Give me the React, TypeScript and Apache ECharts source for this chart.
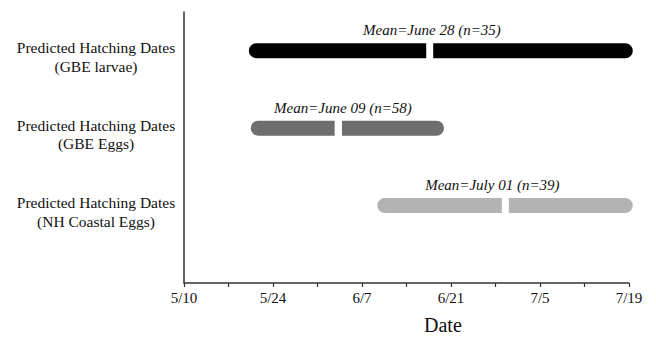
import React, { useEffect, useRef } from "react";
import * as echarts from "echarts";

// Day offsets from 5/10
const rowIndex = [1, 2, 3];
const rowNames = [
  "Predicted Hatching Dates\n(GBE larvae)",
  "Predicted Hatching Dates\n(GBE Eggs)",
  "Predicted Hatching Dates\n(NH Coastal Eggs)",
];
const barStart = [10.2, 10.5, 30.4];
const gapStart = [38.1, 23.7, 50.0];
const gapEnd = [39.2, 24.85, 51.1];
const barEnd = [70.6, 40.9, 70.6];
const meanLabels = ["Mean=June 28 (n=35)", "Mean=June 09 (n=58)", "Mean=July 01 (n=39)"];
const meanLabelDay = [39.0, 25.0, 48.5];
const barColors = ["#000000", "#6e6e6e", "#b3b3b3"];
const xTickDays = [0, 14, 28, 42, 56, 70];
const xTickLabels = ["5/10", "5/24", "6/7", "6/21", "7/5", "7/19"];

const SERIF = "'Liberation Serif', 'Times New Roman', serif";
const LABEL_SHIFT = 0.08; // axis units: labels sit slightly below their bar

export default function App() {
  const ref = useRef<HTMLDivElement>(null);
  useEffect(() => {
    if (!ref.current) return;
    const chart = echarts.init(ref.current, null, { renderer: "svg" });
    const data = rowIndex.map((r, i) => [r, barStart[i], gapStart[i], gapEnd[i], barEnd[i], meanLabelDay[i], i]);
    chart.setOption({
      animation: false,
      grid: { left: 184, right: 27, top: 12, bottom: 58 },
      xAxis: {
        type: "value",
        min: 0,
        max: 70,
        interval: 7,
        splitLine: { show: false },
        axisLine: { show: true, lineStyle: { color: "#333", width: 1.5 } },
        axisTick: { show: true, length: 4, lineStyle: { color: "#333", width: 1.2 } },
        axisLabel: {
          color: "#111",
          fontFamily: SERIF,
          fontSize: 15,
          margin: 7,
          formatter: (v: number) => {
            const k = xTickDays.indexOf(v);
            return k >= 0 ? xTickLabels[k] : "";
          },
        },
      },
      yAxis: {
        type: "value",
        inverse: true,
        min: 0.5,
        max: 4,
        splitLine: { show: false },
        axisLine: { show: true, lineStyle: { color: "#333", width: 1.5 } },
        axisTick: { show: false },
        axisLabel: {
          customValues: rowIndex.map((v) => v + LABEL_SHIFT),
          color: "#111",
          fontFamily: SERIF,
          fontSize: 15.5,
          lineHeight: 18.5,
          align: "center",
          margin: 88,
          formatter: (v: number) => rowNames[Math.round(v) - 1] || "",
        },
      },
      graphic: [
        {
          type: "text",
          left: 424,
          top: 315,
          style: { text: "Date", font: `20px ${SERIF}`, fill: "#111" },
        },
      ],
      series: [
        {
          type: "custom",
          clip: false,
          data,
          encode: { x: [1, 2, 3, 4], y: 0 },
          renderItem: (params: any, api: any) => {
            const y = api.value(0);
            const i = api.value(6);
            const p0 = api.coord([api.value(1), y]);
            const p1 = api.coord([api.value(2), y]);
            const p2 = api.coord([api.value(3), y]);
            const p3 = api.coord([api.value(4), y]);
            const pl = api.coord([api.value(5), y]);
            const h = 15;
            const r = h / 2;
            const color = barColors[i];
            return {
              type: "group",
              children: [
                {
                  type: "rect",
                  shape: { x: p0[0], y: p0[1] - r, width: p1[0] - p0[0], height: h, r: [r, 0, 0, r] },
                  style: { fill: color },
                },
                {
                  type: "rect",
                  shape: { x: p2[0], y: p2[1] - r, width: p3[0] - p2[0], height: h, r: [0, r, r, 0] },
                  style: { fill: color },
                },
                {
                  type: "text",
                  x: pl[0],
                  y: pl[1] - 13,
                  style: {
                    text: meanLabels[i],
                    font: `italic 15px ${SERIF}`,
                    fill: "#111",
                    align: "center",
                    verticalAlign: "bottom",
                  },
                },
              ],
            };
          },
        },
      ],
    });
    return () => chart.dispose();
  }, []);
  return (
    <div
      ref={ref}
      style={{ position: "fixed", left: 0, top: 0, width: 656, height: 341, background: "#fff" }}
    />
  );
}
